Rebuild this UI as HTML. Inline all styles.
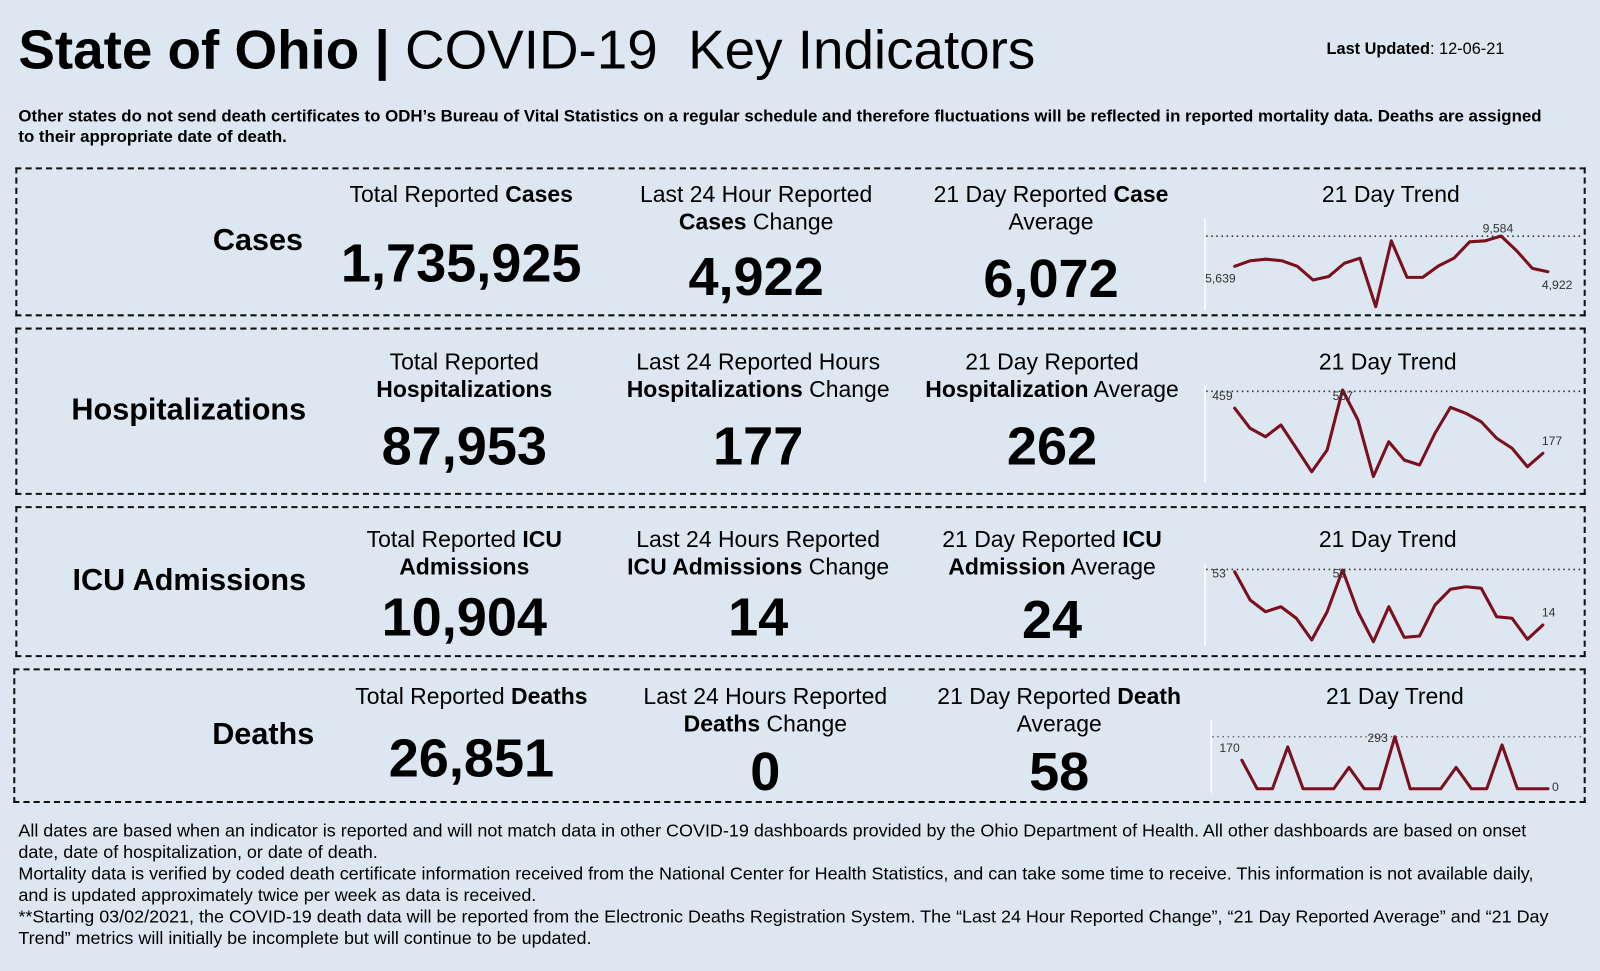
<!DOCTYPE html>
<html><head><meta charset="utf-8"><style>
html,body{margin:0;padding:0;background:#dce7f1;width:1600px;height:971px;overflow:hidden}
#w{position:absolute;left:0;top:0;width:1568px;height:952px;transform:scale(1.020408);transform-origin:0 0;font-family:"Liberation Sans",Arial,sans-serif;color:#000}
.a{position:absolute;white-space:nowrap}
.c{position:absolute;text-align:center;transform:translateX(-50%);white-space:nowrap}
.box{position:absolute;border:2px dashed #111;box-sizing:border-box}
.h{font-size:22.5px;line-height:27px}
.n{font-size:53px;font-weight:bold;line-height:52px}
.lab{position:absolute;font-size:30px;font-weight:bold;text-align:right;white-space:nowrap}
.foot{position:absolute;left:18px;top:804px;width:1505px;font-size:17.6px;line-height:21px}
svg{position:absolute;left:0;top:0}
</style></head><body><div id="w">
<div class="a" style="left:18px;top:20px;font-size:53.7px;line-height:58px"><b>State of Ohio |</b> COVID-19&nbsp; Key Indicators</div>
<div class="a" style="left:1300px;top:40px;font-size:16px"><b>Last Updated</b>: 12-06-21</div>
<div class="a" style="left:18px;top:104px;font-size:16.5px;font-weight:bold;line-height:20px;white-space:normal;width:1506px">Other states do not send death certificates to ODH’s Bureau of Vital Statistics on a regular schedule and therefore fluctuations will be reflected in reported mortality data. Deaths are assigned to their appropriate date of death.</div>

<div class="box" style="left:15px;top:164px;width:1539px;height:146px"></div>
<div class="box" style="left:15px;top:321px;width:1539px;height:164px"></div>
<div class="box" style="left:15px;top:496px;width:1539px;height:148px"></div>
<div class="box" style="left:13px;top:655px;width:1541px;height:132px"></div>

<div class="lab" style="right:1271px;top:219px">Cases</div>
<div class="lab" style="right:1268px;top:385px">Hospitalizations</div>
<div class="lab" style="right:1268px;top:552px">ICU Admissions</div>
<div class="lab" style="right:1260px;top:703px">Deaths</div>

<div class="c h" style="left:452px;top:177px">Total Reported <b>Cases</b></div>
<div class="c n" style="left:452px;top:233px">1,735,925</div>
<div class="c h" style="left:741px;top:177px">Last 24 Hour Reported<br><b>Cases</b> Change</div>
<div class="c n" style="left:741px;top:246px">4,922</div>
<div class="c h" style="left:1030px;top:177px">21 Day Reported <b>Case</b><br>Average</div>
<div class="c n" style="left:1030px;top:248px">6,072</div>
<div class="c h" style="left:1363px;top:177px">21 Day Trend</div>

<div class="c h" style="left:455px;top:341px">Total Reported<br><b>Hospitalizations</b></div>
<div class="c n" style="left:455px;top:412px">87,953</div>
<div class="c h" style="left:743px;top:341px">Last 24 Reported Hours<br><b>Hospitalizations</b> Change</div>
<div class="c n" style="left:743px;top:412px">177</div>
<div class="c h" style="left:1031px;top:341px">21 Day Reported<br><b>Hospitalization</b> Average</div>
<div class="c n" style="left:1031px;top:412px">262</div>
<div class="c h" style="left:1360px;top:341px">21 Day Trend</div>

<div class="c h" style="left:455px;top:515px">Total Reported <b>ICU</b><br><b>Admissions</b></div>
<div class="c n" style="left:455px;top:580px">10,904</div>
<div class="c h" style="left:743px;top:515px">Last 24 Hours Reported<br><b>ICU Admissions</b> Change</div>
<div class="c n" style="left:743px;top:580px">14</div>
<div class="c h" style="left:1031px;top:515px">21 Day Reported <b>ICU</b><br><b>Admission</b> Average</div>
<div class="c n" style="left:1031px;top:582px">24</div>
<div class="c h" style="left:1360px;top:515px">21 Day Trend</div>

<div class="c h" style="left:462px;top:669px">Total Reported <b>Deaths</b></div>
<div class="c n" style="left:462px;top:718px">26,851</div>
<div class="c h" style="left:750px;top:669px">Last 24 Hours Reported<br><b>Deaths</b> Change</div>
<div class="c n" style="left:750px;top:731px">0</div>
<div class="c h" style="left:1038px;top:669px">21 Day Reported <b>Death</b><br>Average</div>
<div class="c n" style="left:1038px;top:731px">58</div>
<div class="c h" style="left:1367px;top:669px">21 Day Trend</div>

<svg width="1568" height="952" font-family="Liberation Sans, Arial, sans-serif" font-size="12" fill="#333">
<g stroke="#fff" stroke-width="1.5">
<line x1="1181" y1="214" x2="1181" y2="304"/>
<line x1="1181" y1="378" x2="1181" y2="472"/>
<line x1="1181" y1="553" x2="1181" y2="633"/>
<line x1="1187" y1="706" x2="1187" y2="777"/>
</g>
<g stroke="#333" stroke-width="1.6" stroke-dasharray="1.5,3.5">
<line x1="1182" y1="231.5" x2="1552" y2="231.5"/>
<line x1="1182" y1="383.5" x2="1552" y2="383.5"/>
<line x1="1182" y1="558" x2="1552" y2="558"/>
</g>
<line x1="1188" y1="722" x2="1552" y2="722" stroke="#555" stroke-width="1.2" stroke-dasharray="1.5,3.5"/>
<g fill="none" stroke="#7b0f1c" stroke-width="3" stroke-linejoin="round" stroke-linecap="round">
<polyline points="1210,261 1225.4,255.5 1240.7,254 1256.1,255.5 1271.4,261 1286.8,274.4 1302.1,271 1317.5,258 1332.8,253 1348.2,300.5 1363.5,236 1378.9,271.8 1394.2,271.8 1409.6,260.7 1424.9,253 1440.3,237 1455.6,236 1471,231.3 1486.3,245.7 1501.7,263 1517,266.3"/>
<polyline points="1210,400 1225.1,419.7 1240.2,428 1255.3,416.5 1270.4,439.3 1285.5,462.3 1300.6,441 1315.7,382.2 1330.8,411.6 1345.9,467 1361,432.9 1376.1,450.8 1391.2,455.7 1406.3,424.6 1421.4,399.2 1436.5,405 1451.6,413.3 1466.7,429.5 1481.8,439.3 1496.9,457.4 1512,444.2"/>
<polyline points="1210,560.3 1225.1,588 1240.2,599.5 1255.3,594.6 1270.4,605.9 1285.5,627.2 1300.6,599.5 1315.7,558.6 1330.8,599.5 1345.9,628.9 1361,594.6 1376.1,624.6 1391.2,623.3 1406.3,592.9 1421.4,577.5 1436.5,575 1451.6,576.5 1466.7,604.4 1481.8,605.9 1496.9,626.5 1512,612.5"/>
<polyline points="1217,745 1232,773 1247,773 1262,732 1277,773 1292,773 1307,773 1322,752 1337,773 1352,773 1367,722 1382,773 1397,773 1412,773 1427,752 1442,773 1457,773 1472,730 1487,773 1502,773 1517,773"/>
</g>
<text x="1181" y="277">5,639</text>
<text x="1453" y="228">9,584</text>
<text x="1511" y="283">4,922</text>
<text x="1188" y="392">459</text>
<text x="1306" y="392">567</text>
<text x="1511" y="436">177</text>
<text x="1188" y="566">53</text>
<text x="1306" y="566">53</text>
<text x="1511" y="604">14</text>
<text x="1195" y="737">170</text>
<text x="1340" y="727">293</text>
<text x="1521" y="775">0</text>
</svg>

<div class="foot">All dates are based when an indicator is reported and will not match data in other COVID-19 dashboards provided by the Ohio Department of Health. All other dashboards are based on onset date, date of hospitalization, or date of death.<br>Mortality data is verified by coded death certificate information received from the National Center for Health Statistics, and can take some time to receive. This information is not available daily, and is updated approximately twice per week as data is received.<br>**Starting 03/02/2021, the COVID-19 death data will be reported from the Electronic Deaths Registration System. The “Last 24 Hour Reported Change”, “21 Day Reported Average” and “21 Day Trend” metrics will initially be incomplete but will continue to be updated.</div>
</div></body></html>
